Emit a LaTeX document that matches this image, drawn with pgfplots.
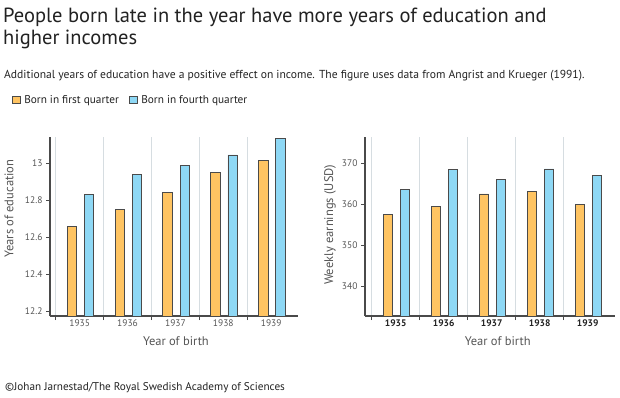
\documentclass[border=0pt]{standalone}
\usepackage{pgfplots}
\pgfplotsset{compat=1.18}
\usepackage{fontspec}
\setmainfont{PT Sans}
\definecolor{q1}{HTML}{FFC462}
\definecolor{q4}{HTML}{8ED8F5}
\definecolor{edge}{HTML}{4A4A4A}
\definecolor{sep}{HTML}{D6DDE1}
\definecolor{txt}{HTML}{222222}
\definecolor{tickc}{HTML}{555555}
\pgfplotsset{
  mystyle/.style={
    scale only axis, ybar, bar width=9.5pt,
    axis x line*=bottom, axis y line*=left,
    axis line style={edge, line width=1.1pt},
    xtick={-0.5,0.5,1.5,2.5,3.5}, xticklabels={},
    xmajorgrids, major grid style={sep, line width=1.4pt},
    extra x ticks={0,1,2,3,4}, extra x tick labels={1935,1936,1937,1938,1939},
    extra x tick style={major tick length=0pt, grid=none},
    tick style={edge, line width=0.8pt}, major tick length=4pt,
    tick align=outside,
    tick label style={font=\fontsize{9.5}{11}\selectfont, text=tickc},
    /pgf/number format/assume math mode=true,
    label style={font=\fontsize{12.5}{14}\selectfont, text=tickc},
    xlabel={Year of birth},
  },
  q1bar/.style={draw=edge, line width=0.8pt, fill=q1, bar shift=-7.8pt},
  q4bar/.style={draw=edge, line width=0.8pt, fill=q4, bar shift=9.4pt},
}
\begin{document}
\begin{tikzpicture}
\path[use as bounding box] (0,0) rectangle (620pt,-398pt);
\node[anchor=base west, inner sep=0pt, text=txt, font=\fontsize{20.5}{22}\selectfont] at (3pt,-22.7pt) {People born late in the year have more years of education and};
\node[anchor=base west, inner sep=0pt, text=txt, font=\fontsize{20.5}{22}\selectfont] at (3pt,-45pt) {higher incomes};
\node[anchor=base west, inner sep=0pt, text=txt, font=\fontsize{11.6}{13}\selectfont] at (4pt,-79pt) {Additional years of education have a positive effect on income. The figure uses data from Angrist and Krueger (1991).};
\node[anchor=base west, inner sep=0pt, text=txt, font=\fontsize{11.2}{13}\selectfont] at (5pt,-390pt) {©Johan Jarnestad/The Royal Swedish Academy of Sciences};

\begin{axis}[mystyle,
  at={(50pt,-316pt)}, anchor=south west, width=248pt, height=179pt,
  xmin=-0.62, xmax=4.56, ymin=12.173, ymax=13.14,
  ytick={12.2,12.4,12.6,12.8,13},
  ylabel={Years of education},
  ylabel style={at={(axis description cs:-0.165,0.6)}, anchor=center},
  xlabel style={at={(axis description cs:0.508,-0.14)}, anchor=center},
  legend style={at={(axis description cs:-0.154,1.207)}, anchor=west, draw=none, fill=none, inner sep=0pt,
    font=\fontsize{11.3}{13}\selectfont, text=txt,
    /tikz/every odd column/.append style={column sep=2pt},
    /tikz/every even column/.append style={column sep=8pt}},
  legend columns=2,
  legend image code/.code={\draw[#1, bar shift=0pt] (0pt,-3.7pt) rectangle (7.5pt,3.7pt);},
]
\addplot[q1bar] coordinates {(0,12.658) (1,12.750) (2,12.840) (3,12.949) (4,13.013)};
\addplot[q4bar] coordinates {(0,12.830) (1,12.938) (2,12.984) (3,13.043) (4,13.130)};
\legend{Born in first quarter, Born in fourth quarter}
\end{axis}

\begin{axis}[mystyle,
  at={(365pt,-316pt)}, anchor=south west, width=250pt, height=179pt,
  xmin=-0.64, xmax=4.57, ymin=332.8, ymax=376.5,
  ytick={340,350,360,370},
  ylabel={Weekly earnings (USD)},
  ylabel style={at={(axis description cs:-0.14,0.51)}, anchor=center},
  xlabel style={at={(axis description cs:0.531,-0.14)}, anchor=center},
  extra x tick style={major tick length=0pt, grid=none, tick label style={text=txt, font=\fontsize{9.5}{11}\selectfont\bfseries}},
]
\addplot[q1bar] coordinates {(0,357.7) (1,359.5) (2,362.6) (3,363.1) (4,360.1)};
\addplot[q4bar] coordinates {(0,363.6) (1,368.5) (2,366.2) (3,368.7) (4,367.1)};
\end{axis}
\end{tikzpicture}
\end{document}
